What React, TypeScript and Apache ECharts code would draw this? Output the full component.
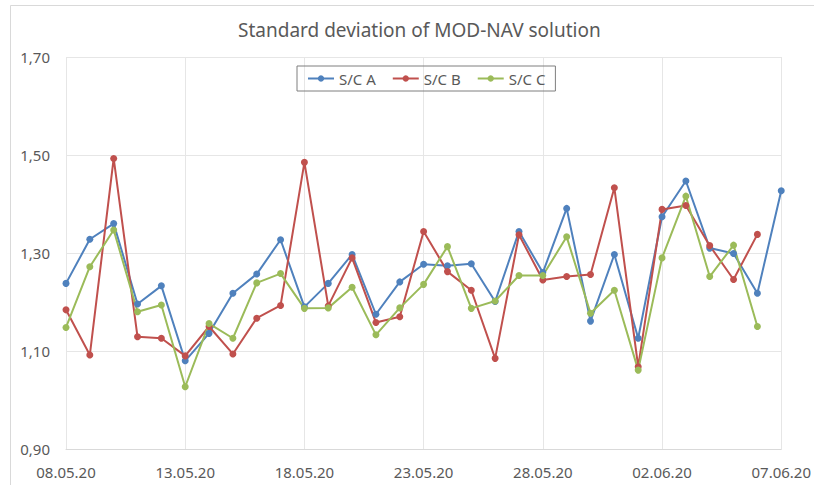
import React, { useEffect, useRef } from "react";
import * as echarts from "echarts";

const dates = [
  "08.05.20", "09.05.20", "10.05.20", "11.05.20", "12.05.20", "13.05.20", "14.05.20", "15.05.20",
  "16.05.20", "17.05.20", "18.05.20", "19.05.20", "20.05.20", "21.05.20", "22.05.20", "23.05.20",
  "24.05.20", "25.05.20", "26.05.20", "27.05.20", "28.05.20", "29.05.20", "30.05.20", "31.05.20",
  "01.06.20", "02.06.20", "03.06.20", "04.06.20", "05.06.20", "06.06.20", "07.06.20",
];

const scA = [
  1.238, 1.328, 1.36, 1.196, 1.233, 1.08, 1.136, 1.218, 1.257, 1.327, 1.19, 1.238, 1.297, 1.175,
  1.241, 1.277, 1.274, 1.278, 1.201, 1.344, 1.26, 1.391, 1.161, 1.297, 1.126, 1.374, 1.447, 1.31,
  1.299, 1.218, 1.427,
];

const scB = [
  1.184, 1.092, 1.493, 1.129, 1.126, 1.09, 1.15, 1.094, 1.167, 1.193, 1.485, 1.192, 1.29, 1.158,
  1.17, 1.344, 1.262, 1.224, 1.085, 1.337, 1.245, 1.252, 1.256, 1.433, 1.068, 1.389, 1.397, 1.315,
  1.246, 1.338, null,
];

const scC = [
  1.148, 1.272, 1.347, 1.18, 1.194, 1.027, 1.156, 1.126, 1.239, 1.258, 1.187, 1.188, 1.23, 1.133,
  1.188, 1.236, 1.313, 1.187, 1.202, 1.254, 1.254, 1.333, 1.177, 1.224, 1.061, 1.29, 1.416, 1.252,
  1.316, 1.15, null,
];

const seriesNames = ["S/C A", "S/C B", "S/C C"];
const colors = ["#4F81BD", "#C0504D", "#9BBB59"];

const FONT = "Noto Sans";

export default function App() {
  const ref = useRef<HTMLDivElement>(null);
  useEffect(() => {
    if (!ref.current) return;
    const chart = echarts.init(ref.current, undefined, { renderer: "svg" });
    const mk = (name: string, data: (number | null)[], color: string) => ({
      name,
      type: "line",
      data,
      symbol: "circle",
      symbolSize: 7,
      showSymbol: true,
      connectNulls: false,
      lineStyle: { width: 2, color },
      itemStyle: { color },
    });
    chart.setOption({
      animation: false,
      color: colors,
      textStyle: { fontFamily: FONT },
      title: {
        text: "Standard deviation of MOD-NAV solution",
        left: 233,
        top: 15,
        textStyle: { fontFamily: FONT, fontSize: 19, fontWeight: "normal", color: "#595959" },
      },
      legend: {
        top: 66,
        left: 297,
        itemWidth: 26,
        itemHeight: 8,
        itemGap: 16,
        padding: [5, 10, 5, 10],
        borderColor: "#7f7f7f",
        borderWidth: 1,
        textStyle: { fontFamily: FONT, fontSize: 15, color: "#595959" },
        data: seriesNames,
      },
      graphic: [
        {
          type: "rect",
          shape: { x: 10.5, y: 5.5, width: 830, height: 500 },
          style: { fill: "none", stroke: "#d9d9d9", lineWidth: 1 },
          silent: true,
        },
      ],
      grid: { left: 66, right: 28, top: 57, bottom: 36, containLabel: false },
      xAxis: {
        type: "category",
        data: dates,
        boundaryGap: false,
        axisTick: { show: false },
        axisLine: { show: true, lineStyle: { color: "#d9d9d9" } },
        axisLabel: { interval: 4, color: "#595959", fontSize: 15, fontFamily: FONT, margin: 15 },
        splitLine: { show: true, interval: 4, lineStyle: { color: "#e6e6e6" } },
      },
      yAxis: {
        type: "value",
        min: 0.9,
        max: 1.7,
        interval: 0.2,
        axisLine: { show: false },
        axisTick: { show: false },
        axisLabel: {
          color: "#595959",
          fontSize: 15,
          fontFamily: FONT,
          margin: 16,
          formatter: (v: number) => v.toFixed(2).replace(".", ","),
        },
        splitLine: { show: true, lineStyle: { color: "#e6e6e6" } },
      },
      series: [mk(seriesNames[0], scA, colors[0]), mk(seriesNames[1], scB, colors[1]), mk(seriesNames[2], scC, colors[2])],
    });
    return () => chart.dispose();
  }, []);
  return (
    <div
      ref={ref}
      style={{ position: "absolute", left: 0, top: 0, width: 814, height: 485, background: "#fff" }}
    />
  );
}
